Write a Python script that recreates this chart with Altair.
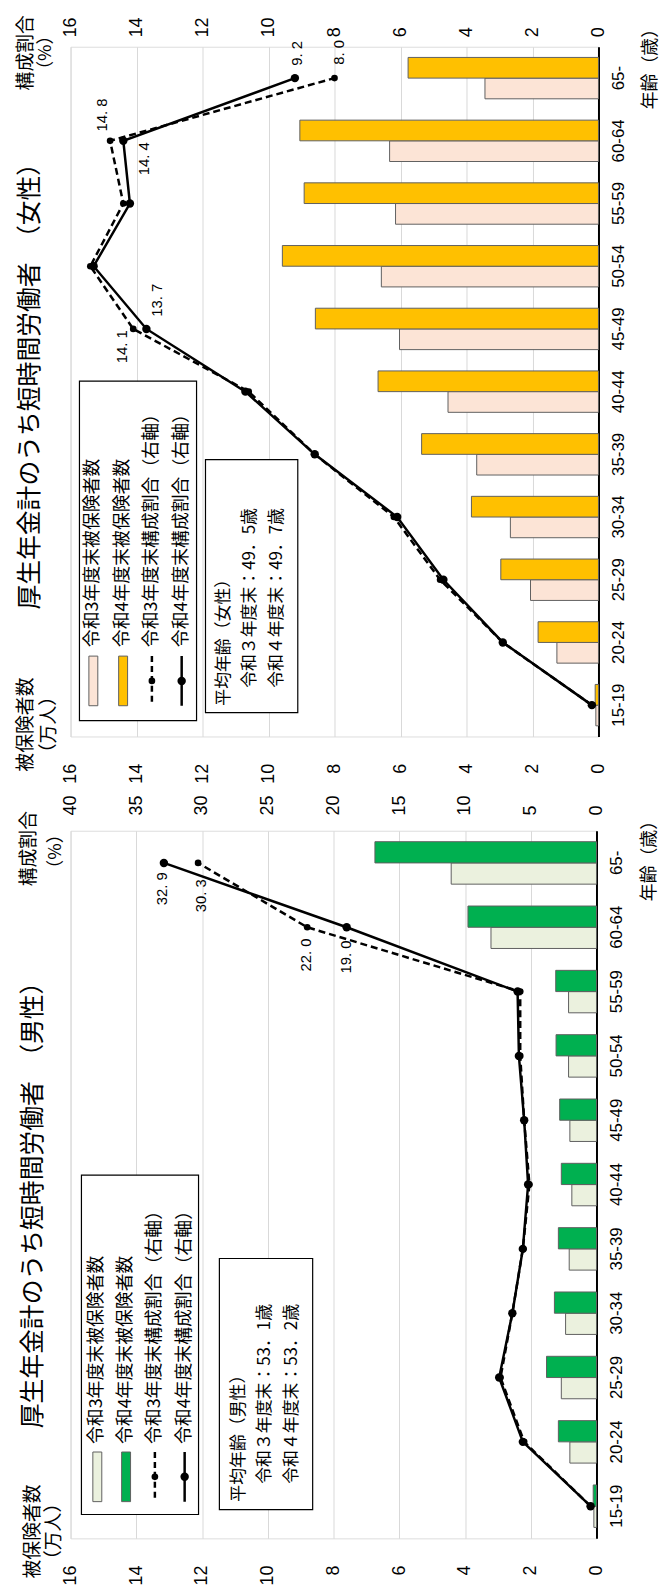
import altair as alt
import pandas as pd

AGES = ["15-19", "20-24", "25-29", "30-34", "35-39", "40-44",
        "45-49", "50-54", "55-59", "60-64", "65-"]

# Female (万人, %)
F_R3_COUNT = [0.08, 1.26, 2.06, 2.67, 3.69, 4.56, 6.03, 6.58, 6.15, 6.33, 3.44]
F_R4_COUNT = [0.10, 1.83, 2.96, 3.85, 5.36, 6.68, 8.58, 9.58, 8.92, 9.05, 5.77]
F_R3_RATIO = [0.2, 2.9, 4.8, 6.2, 8.6, 10.6, 14.1, 15.4, 14.4, 14.8, 8.0]
F_R4_RATIO = [0.2, 2.9, 4.7, 6.1, 8.6, 10.7, 13.7, 15.3, 14.2, 14.4, 9.2]

# Male (万人, %)
M_R3_COUNT = [0.08, 0.81, 1.07, 0.94, 0.83, 0.75, 0.81, 0.85, 0.85, 3.21, 4.42]
M_R4_COUNT = [0.10, 1.16, 1.52, 1.28, 1.16, 1.07, 1.12, 1.23, 1.24, 3.91, 6.74]
M_R3_RATIO = [0.45, 5.5, 7.3, 6.4, 5.6, 5.1, 5.5, 5.8, 5.8, 22.0, 30.3]
M_R4_RATIO = [0.45, 5.6, 7.4, 6.4, 5.6, 5.2, 5.5, 5.9, 6.0, 19.0, 32.9]

LEGEND_TEXT = ["令和3年度末被保険者数", "令和4年度末被保険者数",
               "令和3年度末構成割合（右軸）", "令和4年度末構成割合（右軸）"]

NUM_FONT = "Liberation Sans"
JP_FONT = "Noto Sans CJK JP"


def fmt(v):
    return f"{v:.1f}".replace(".", ". ")


def text_layer(txt, x, y, size, align="center", font=JP_FONT):
    return alt.Chart(pd.DataFrame({"t": [txt]})).mark_text(
        angle=270, align=align, baseline="middle", font=font,
        fontSize=size, color="black"
    ).encode(x=alt.value(x), y=alt.value(y), text="t:N")


def make_panel(p):
    rows = []
    for i, a in enumerate(AGES):
        rows.append({"age": a, "idx": i, "series": p["names"][0],
                     "count": p["r3c"][i], "ratio": p["r3r"][i]})
        rows.append({"age": a, "idx": i, "series": p["names"][1],
                     "count": p["r4c"][i], "ratio": p["r4r"][i]})
    df = pd.DataFrame(rows)
    s3, s4 = p["names"]

    Y = alt.Y("age:N", sort=AGES[::-1], title=None,
              scale=alt.Scale(paddingInner=0.34, paddingOuter=0.17),
              axis=alt.Axis(orient="right", labelAngle=270, labelAlign="center",
                            labelBaseline="top", labelPadding=12, ticks=False,
                            domainColor="black", domainWidth=2, grid=False,
                            labelFont=NUM_FONT, labelFontSize=17,
                            labelColor="black"))
    Xc = alt.X("count:Q", title=None,
               scale=alt.Scale(domain=[0, 16], reverse=True, nice=False),
               axis=alt.Axis(orient="bottom", values=list(range(0, 17, 2)),
                             labelAngle=270, labelAlign="right",
                             labelBaseline="middle", labelPadding=27,
                             ticks=False, tickSize=0, domain=False, grid=True,
                             gridColor="#d9d9d9", gridWidth=1,
                             labelFont=NUM_FONT, labelFontSize=18,
                             labelColor="black"))
    Xr = alt.X("ratio:Q", title=None,
               scale=alt.Scale(domain=[0, p["rmax"]], reverse=True, nice=False),
               axis=alt.Axis(orient="top", values=p["rticks"], labelAngle=270,
                             labelAlign="left", labelBaseline="middle",
                             labelPadding=p["rpad"], ticks=False, tickSize=0,
                             domain=False, grid=False, labelFont=NUM_FONT,
                             labelFontSize=18, labelColor="black"))

    bars = alt.Chart(df).mark_bar(stroke="#606060", strokeWidth=1).encode(
        y=Y,
        yOffset=alt.YOffset("series:N", sort=[s4, s3]),
        x=Xc,
        color=alt.Color("series:N", legend=None,
                        scale=alt.Scale(domain=[s3, s4], range=p["colors"])),
    )

    line3 = alt.Chart(df[df.series == s3]).mark_line(
        color="black", strokeWidth=2.5, strokeDash=[7, 4],
        point=alt.OverlayMarkDef(filled=True, color="black", size=45, opacity=1)
    ).encode(x=Xr, y=Y, order=alt.Order("idx:Q"))
    line4 = alt.Chart(df[df.series == s4]).mark_line(
        color="black", strokeWidth=2.5,
        point=alt.OverlayMarkDef(filled=True, color="black", size=72, opacity=1)
    ).encode(x=Xr, y=Y, order=alt.Order("idx:Q"))

    labels = []
    for age, k, dx, dy in p["labels"]:
        ser = p["names"][k]
        r = df[(df.age == age) & (df.series == ser)].copy()
        r["label"] = r["ratio"].map(fmt)
        labels.append(alt.Chart(r).mark_text(
            angle=270, align="center", baseline="middle", dx=dx, dy=dy,
            font=NUM_FONT, fontSize=15, color="black"
        ).encode(x=Xr, y=Y, text="label:N"))

    ratio_layer = alt.layer(line3, line4, *labels)

    # decorations (legend box, note box, titles)
    lg = p["legend"]
    decos = []
    decos.append(alt.Chart(pd.DataFrame({"a": [0]})).mark_rect(
        fill="white", stroke="black", strokeWidth=1.2
    ).encode(x=alt.value(lg["box"][0]), x2=alt.value(lg["box"][1]),
             y=alt.value(lg["box"][2]), y2=alt.value(lg["box"][3])))
    cols = lg["cols"]
    sy0, sy1 = lg["sw"]
    for k in range(2):
        decos.append(alt.Chart(pd.DataFrame({"a": [0]})).mark_rect(
            fill=p["colors"][k], stroke="#606060", strokeWidth=1
        ).encode(x=alt.value(cols[k] - 4.5), x2=alt.value(cols[k] + 4.5),
                 y=alt.value(sy0), y2=alt.value(sy1)))
    for k, dash, sz in [(2, [6, 4], 45), (3, [1, 0], 72)]:
        decos.append(alt.Chart(pd.DataFrame({"a": [0]})).mark_rule(
            color="black", strokeWidth=2.5, strokeDash=dash
        ).encode(x=alt.value(cols[k]), y=alt.value(sy0), y2=alt.value(sy1)))
        decos.append(alt.Chart(pd.DataFrame({"a": [0]})).mark_circle(
            color="black", size=sz, opacity=1
        ).encode(x=alt.value(cols[k]), y=alt.value((sy0 + sy1) / 2)))
    for k in range(4):
        decos.append(text_layer(LEGEND_TEXT[k], cols[k], lg["ty"], 18, align="left"))

    nb = p["note"]
    decos.append(alt.Chart(pd.DataFrame({"a": [0]})).mark_rect(
        fill="white", stroke="black", strokeWidth=1.2
    ).encode(x=alt.value(nb["box"][0]), x2=alt.value(nb["box"][1]),
             y=alt.value(nb["box"][2]), y2=alt.value(nb["box"][3])))
    for (txt, x, y) in nb["lines"]:
        decos.append(text_layer(txt, x, y, 17, align="left"))

    for (txt, x, y, size) in p["texts"]:
        decos.append(text_layer(txt, x, y, size))

    return alt.layer(bars, ratio_layer, *decos).resolve_scale(
        x="independent").properties(width=p["w"], height=p["h"])


female = make_panel({
    "names": ["F3", "F4"],
    "r3c": F_R3_COUNT, "r4c": F_R4_COUNT, "r3r": F_R3_RATIO, "r4r": F_R4_RATIO,
    "colors": ["#FCE4D6", "#FFC000"], "rmax": 16, "rticks": list(range(0, 17, 2)),
    "rpad": 10,
    "w": 532, "h": 695,
    "labels": [("65-", 1, 25, 2), ("65-", 0, 26, 5),
               ("60-64", 0, 26, -8), ("60-64", 1, -18, 21),
               ("45-49", 1, 29, 11), ("45-49", 0, -18, -11)],
    "legend": {"box": [9, 127, 337, 679], "cols": [23, 53, 82, 112],
               "sw": [614, 664], "ty": 605},
    "note": {"box": [136, 229, 416, 671],
             "lines": [("平均年齢（女性）", 155, 664),
                       ("令和３年度末：49．5歳", 181, 646),
                       ("令和４年度末：49．7歳", 208, 646)]},
    "texts": [("厚生年金計のうち短時間労働者　（女性）", -41, 336, 25),
              ("構成割合", -45, 6, 19), ("（%）", -25, 6, 18),
              ("被保険者数", -45, 683, 19), ("（万人）", -22, 683, 19),
              ("年齢（歳）", 585, 18, 18)],
})

male = make_panel({
    "names": ["M3", "M4"],
    "r3c": M_R3_COUNT, "r4c": M_R4_COUNT, "r3r": M_R3_RATIO, "r4r": M_R4_RATIO,
    "colors": ["#EBF1DE", "#00B050"], "rmax": 40, "rticks": list(range(0, 41, 5)),
    "rpad": 16,
    "w": 530, "h": 713,
    "labels": [("65-", 1, -26, -2), ("65-", 0, -33, 3),
               ("60-64", 0, -28, -1), ("60-64", 1, -30, -1)],
    "legend": {"box": [11, 129, 347, 689], "cols": [27, 56, 85, 115],
               "sw": [626, 676], "ty": 618},
    "note": {"box": [150, 244, 431, 684],
             "lines": [("平均年齢（男性）", 170, 676),
                       ("令和３年度末：53．1歳", 196, 658),
                       ("令和４年度末：53．2歳", 223, 658)]},
    "texts": [("厚生年金計のうち短時間労働者　（男性）", -38, 371, 25),
              ("構成割合", -42, 18, 19), ("（%）", -15, 21, 18),
              ("被保険者数", -38, 706, 19), ("（万人）", -17, 706, 19),
              ("年齢（歳）", 584, 26, 18)],
})

base = alt.vconcat(female, male, spacing=10).resolve_scale(
    color="independent", yOffset="independent")


def finish(c):
    return c.configure_view(stroke="black", strokeWidth=1.3).configure(
        background="white")


chart = finish(base.properties(padding={"left": 8, "top": 0, "right": 0, "bottom": 0}))

chart.save("out.html", embed_options={"renderer": "svg", "actions": False})
